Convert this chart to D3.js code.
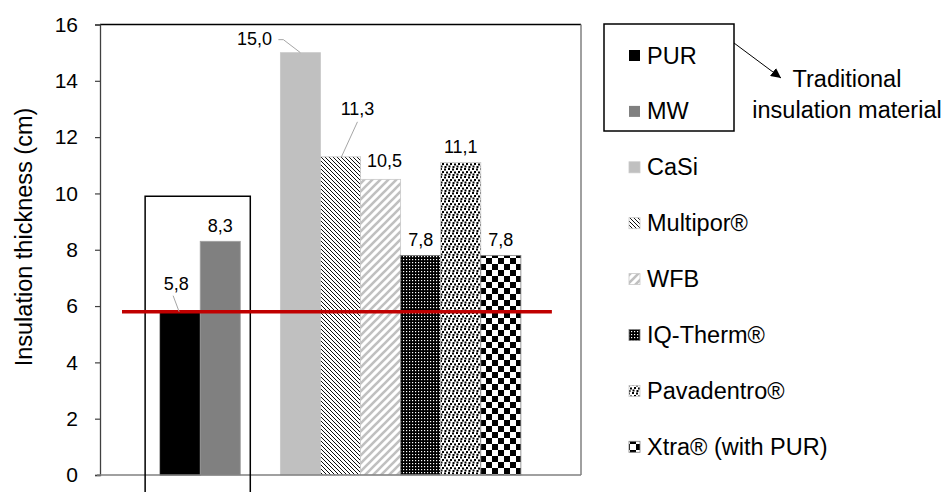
<!DOCTYPE html>
<html><head><meta charset="utf-8">
<script src="https://cdn.jsdelivr.net/npm/d3@7"></script>
<style>body{margin:0;background:#fff;} svg{display:block;font-family:Arial,"Liberation Sans",sans-serif;}</style>
</head><body>
<script>
// ---- data ----
const materials = ["PUR", "MW", "CaSi", "Multipor®", "WFB", "IQ-Therm®", "Pavadentro®", "Xtra® (with PUR)"];
const thickness = [5.8, 8.3, 15.0, 11.3, 10.5, 7.8, 11.1, 7.8];
const labels = ["5,8", "8,3", "15,0", "11,3", "10,5", "7,8", "11,1", "7,8"];
const slots = ["PUR", "MW", "", "CaSi", "Multipor®", "WFB", "IQ-Therm®", "Pavadentro®", "Xtra® (with PUR)"];
const yTicks = [0, 2, 4, 6, 8, 10, 12, 14, 16];
const referenceValue = 5.8;
const yTitle = "Insulation thickness (cm)";
const noteLines = ["Traditional", "insulation material"];

(function () {
const W = 949, H = 492;
const svg = d3.select("body").append("svg").attr("width", W).attr("height", H);
const defs = svg.append("defs");

// patterns
function pat(id, w, h) {
  return defs.append("pattern").attr("id", id).attr("patternUnits", "userSpaceOnUse")
    .attr("width", w).attr("height", h);
}
let p = pat("multipor", 4, 4);
p.append("rect").attr("width", 4).attr("height", 4).attr("fill", "#fff");
p.append("path").attr("d", "M0,0L4,4M-1,3L1,5M3,-1L5,1").attr("stroke", "#000").attr("stroke-width", 0.95);
p = pat("wfb", 8, 8);
p.append("rect").attr("width", 8).attr("height", 8).attr("fill", "#fff");
p.append("path").attr("d", "M0,8L8,0M-2,2L2,-2M6,10L10,6").attr("stroke", "#c0c0c0").attr("stroke-width", 2.6);
p = pat("iq", 3, 3);
p.append("rect").attr("width", 3).attr("height", 3).attr("fill", "#000");
p.append("rect").attr("x", 1).attr("y", 1).attr("width", 1.2).attr("height", 1.2).attr("fill", "#fff");
p = pat("pava", 8, 8);
p.append("rect").attr("width", 8).attr("height", 8).attr("fill", "#fff");
[[0,0],[4,0.5],[2,3],[6,3.5],[0.5,5.5],[4.5,6]].forEach(([px,py]) => {
  p.append("rect").attr("x", px).attr("y", py).attr("width", 2).attr("height", 2).attr("fill", "#000");
});
p = pat("xtra", 12, 12);
p.append("rect").attr("width", 12).attr("height", 12).attr("fill", "#fff");
p.append("rect").attr("width", 6).attr("height", 6).attr("fill", "#000");
p.append("rect").attr("x", 6).attr("y", 6).attr("width", 6).attr("height", 6).attr("fill", "#000");

const fills = {
  "PUR": "#000", "MW": "#808080", "CaSi": "#c0c0c0", "Multipor®": "url(#multipor)",
  "WFB": "url(#wfb)", "IQ-Therm®": "url(#iq)", "Pavadentro®": "url(#pava)", "Xtra® (with PUR)": "url(#xtra)"
};
const strokes = {
  "PUR": "#000", "MW": "#a0a0a0", "CaSi": "#c8c8c8", "Multipor®": "#c8c8c8",
  "WFB": "#c8c8c8", "IQ-Therm®": "#808080", "Pavadentro®": "#c8c8c8", "Xtra® (with PUR)": "#808080"
};

// scales
const pl = 100, pr = 581, pt = 24.5, pb = 475;
const x = d3.scaleBand().domain(slots).range([pl, pr]).paddingInner(0).paddingOuter(1.5);
const y = d3.scaleLinear().domain([0, 16]).range([pb, pt]);

// plot border (top, right)
svg.append("path").attr("d", `M${pl},${pt}H${pr}`).attr("stroke", "#000").attr("stroke-width", 1.5).attr("fill", "none");
svg.append("path").attr("d", `M${pr},${pt}V${pb}`).attr("stroke", "#808080").attr("stroke-width", 1.5).attr("fill", "none");

// bars
const data = materials.map((m, i) => ({ m, v: thickness[i], l: labels[i] }));
svg.append("g").selectAll("rect").data(data).join("rect")
  .attr("x", d => x(d.m)).attr("width", x.bandwidth())
  .attr("y", d => y(d.v)).attr("height", d => y(0) - y(d.v))
  .attr("fill", d => fills[d.m]).attr("stroke", d => strokes[d.m]).attr("stroke-width", 0.8);

// y axis
const ya = svg.append("g").attr("transform", `translate(${pl},0)`)
  .call(d3.axisLeft(y).tickValues(yTicks).tickSize(5).tickPadding(17).tickFormat(d3.format("d")));
ya.select(".domain").attr("stroke", "#404040").attr("stroke-width", 1.3);
ya.selectAll(".tick line").attr("stroke", "#404040").attr("stroke-width", 1.2);
ya.selectAll(".tick text").attr("font-size", 21).attr("fill", "#000").attr("font-family", "Arial, 'Liberation Sans', sans-serif");

// x axis baseline
svg.append("line").attr("x1", pl - 3).attr("x2", pr).attr("y1", y(0)).attr("y2", y(0))
  .attr("stroke", "#808080").attr("stroke-width", 1.5);

// y title
svg.append("text").attr("transform", `translate(32,237) rotate(-90)`)
  .attr("text-anchor", "middle").attr("font-size", 23.5).text(yTitle);

// box around traditional materials
const bx0 = x("PUR") - 15, bx1 = x("MW") + x.bandwidth() + 10;
svg.append("rect").attr("x", bx0).attr("y", y(9.9)).attr("width", bx1 - bx0).attr("height", 492 - y(9.9) + 5)
  .attr("fill", "none").attr("stroke", "#000").attr("stroke-width", 1.5);

// reference line
svg.append("line").attr("x1", pl + 22).attr("x2", x("Xtra® (with PUR)") + x.bandwidth() + 31)
  .attr("y1", y(referenceValue)).attr("y2", y(referenceValue))
  .attr("stroke", "#c00000").attr("stroke-width", 3.5);

// data labels
const labelOffsets = {
  "PUR": { dx: -4, dy: -22 },
  "MW": { dx: 0, dy: -9 },
  "CaSi": { dx: -46, dy: -8 },
  "Multipor®": { dx: 17, dy: -42 },
  "WFB": { dx: 4, dy: -12 },
  "IQ-Therm®": { dx: 0, dy: -9 },
  "Pavadentro®": { dx: 0, dy: -9 },
  "Xtra® (with PUR)": { dx: 0, dy: -9 }
};
const lg = svg.append("g");
data.forEach(d => {
  const o = labelOffsets[d.m];
  const cx = x(d.m) + x.bandwidth() / 2, ty = y(d.v);
  lg.append("text").attr("x", cx + o.dx).attr("y", ty + o.dy).attr("text-anchor", "middle")
    .attr("font-size", 18).text(d.l);
});
// leader lines
const lead = (pts) => lg.append("path").attr("d", d3.line()(pts)).attr("fill", "none").attr("stroke", "#a6a6a6").attr("stroke-width", 1);
lead([[x("PUR") + 13, y(5.8) - 16], [x("PUR") + 19, y(5.8)]]);
lead([[x("CaSi") - 2, y(15) - 13], [x("CaSi") + 3, y(15) - 13], [x("CaSi") + 20, y(15)]]);
lead([[x("Multipor®") + 37, y(11.3) - 35], [x("Multipor®") + 21, y(11.3)]]);

// legend
const legX = 629, legY0 = 55, legStep = 55.9;
const leg = svg.append("g");
materials.forEach((m, i) => {
  const cy = legY0 + i * legStep;
  leg.append("rect").attr("x", legX).attr("y", cy - 5).attr("width", 11).attr("height", 11)
    .attr("fill", fills[m]).attr("stroke", m === "PUR" || m === "MW" ? "none" : strokes[m]).attr("stroke-width", 0.8);
  leg.append("text").attr("x", legX + 18).attr("y", cy + 8.5).attr("font-size", 23.5).text(m);
});
// legend box for traditional
svg.append("rect").attr("x", 604).attr("y", 24).attr("width", 130).attr("height", 107)
  .attr("fill", "none").attr("stroke", "#000").attr("stroke-width", 1.5);

// arrow + note
defs.append("marker").attr("id", "arr").attr("viewBox", "0 0 10 10").attr("refX", 10).attr("refY", 5)
  .attr("markerWidth", 10).attr("markerHeight", 10).attr("markerUnits", "userSpaceOnUse").attr("orient", "auto")
  .append("path").attr("d", "M0,0L10,5L0,10Z").attr("fill", "#000");
svg.append("line").attr("x1", 734).attr("y1", 43).attr("x2", 781).attr("y2", 78)
  .attr("stroke", "#000").attr("stroke-width", 1).attr("marker-end", "url(#arr)");
svg.append("text").attr("text-anchor", "middle").attr("font-size", 23.5)
  .selectAll("tspan").data(noteLines).join("tspan")
  .attr("x", 847).attr("y", (d, i) => 87 + i * 31).text(d => d);
})();
</script>
</body></html>
